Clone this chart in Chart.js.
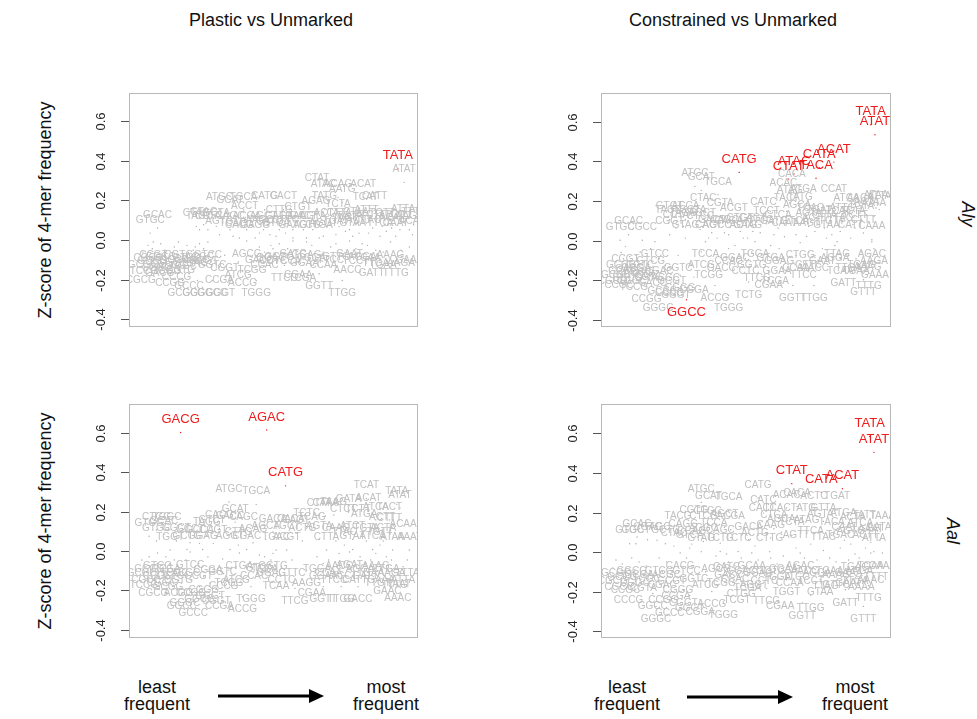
<!DOCTYPE html>
<html>
<head>
<meta charset="utf-8">
<script src="https://cdn.jsdelivr.net/npm/chart.js@4"></script>
<style>
  body { margin: 0; background: #fff; width: 977px; height: 719px; position: relative; overflow: hidden;
         font-family: "Liberation Sans", Arial, sans-serif; color: #111; }
  canvas { position: absolute; }
  .t { position: absolute; font-size: 18px; white-space: nowrap; transform: translate(-50%, -50%); }
  .v { position: absolute; font-size: 18px; white-space: nowrap; transform: translate(-50%, -50%) rotate(-90deg); }
  .r { position: absolute; font-size: 18px; font-style: italic; white-space: nowrap; transform: translate(-50%, -50%) rotate(90deg); }
  .two { position: absolute; font-size: 18px; line-height: 17px; text-align: center; transform: translateX(-50%); }
  svg { position: absolute; left: 0; top: 0; }
</style>
</head>
<body>
<div class="t" style="left:271px;top:20px">Plastic vs Unmarked</div>
<div class="t" style="left:733px;top:20px">Constrained vs Unmarked</div>
<div class="v" style="left:45px;top:210px">Z-score of 4-mer frequency</div>
<div class="v" style="left:45px;top:521px">Z-score of 4-mer frequency</div>
<div class="r" style="left:967px;top:214px">Aly</div>
<div class="r" style="left:952px;top:531px">Aal</div>

<canvas id="p1" width="344" height="254" style="left:84px;top:83px"></canvas>
<canvas id="p2" width="345" height="254" style="left:556px;top:83px"></canvas>
<canvas id="p3" width="344" height="254" style="left:84px;top:394px"></canvas>
<canvas id="p4" width="345" height="254" style="left:556px;top:394px"></canvas>

<div class="two" style="left:157px;top:679px">least<br>frequent</div>
<div class="two" style="left:386px;top:679px">most<br>frequent</div>
<div class="two" style="left:627px;top:679px">least<br>frequent</div>
<div class="two" style="left:855px;top:679px">most<br>frequent</div>
<svg width="977" height="719">
  <line x1="218" y1="696" x2="311" y2="696" stroke="#000" stroke-width="3"/>
  <polygon points="309,689 324,696 309,703" fill="#000"/>
  <line x1="687" y1="697" x2="780" y2="697" stroke="#000" stroke-width="3"/>
  <polygon points="778,690 793,697 778,704" fill="#000"/>
</svg>

<script>
// [4-mer, frequency rank, z-score]
const plasticAly = [
  ["TATA",247,0.360],["ATAT",253,0.291],["CTAT",170,0.244],["ATAC",176,0.217],["ACAG",190,0.214],
  ["ACAT",214,0.215],["AATG",194,0.190],["ATGC",77,0.152],["GCAT",87,0.136],["TGCA",100,0.152],
  ["CATG",120,0.153],["CACT",138,0.153],["ACCT",101,0.106],["TATG",177,0.157],["TCAT",216,0.148],
  ["CATT",225,0.157],["GCAC",18,0.061],["GTGC",11,0.035],["CTTG",134,0.086],["CTGT",152,0.099],
  ["AGAG",169,0.128],["TCTA",190,0.116],["ATTT",217,0.086],["ATTA",252,0.089],["CTAG",55,0.069],
  ["GTAG",62,0.077],["TAGC",58,0.052],["CCTA",66,0.052],["GCTA",74,0.069],["CAGC",87,0.052],
  ["AGTG",77,0.027],["TCAG",90,0.019],["ACGA",103,0.052],["CACG",96,0.010],["GAGG",111,0.010],
  ["AGCT",119,0.052],["GTCA",131,0.019],["CAGA",134,0.052],["TGAC",147,0.052],["GAAG",147,0.010],
  ["GACT",157,0.052],["TGTG",160,0.010],["AGTA",166,0.052],["CTGA",172,0.010],["ACTA",179,0.069],
  ["AGGT",176,0.019],["CTTA",191,0.069],["TGAT",188,0.027],["TGTA",201,0.052],["GTAA",204,0.019],
  ["ACTT",210,0.035],["TCTT",223,0.061],["TTCA",230,0.019],["TACA",236,0.044],["CAAT",245,0.019],
  ["AATT",249,0.052],["AAGT",258,0.052],["ACAA",261,0.027],["TTTA",262,0.077],["CTTC",140,0.035],
  ["GATG",125,0.027],["AAGC",115,0.035],["TAGT",197,0.044],["TTAC",219,0.035],["ATCT",241,0.061],
  ["TGTT",232,0.069],["CTAA",207,0.077],
  ["CGCG",2,-0.136],["GCGC",4,-0.061],["CGCC",9,-0.027],["GCCG",13,-0.044],["CCGC",17,-0.077],
  ["GGCG",21,-0.019],["CGGC",25,-0.052],["CCGG",30,-0.153],["GCGA",34,-0.035],["CGTC",38,-0.010],
  ["TCGC",42,-0.069],["GCGG",42,-0.204],["GCCC",48,-0.170],["GGGC",56,-0.204],["GTCG",46,-0.027],
  ["CGAC",52,-0.052],["ACGC",58,-0.019],["GCGT",62,-0.044],["CCGA",77,-0.136],["GGCC",70,-0.204],
  ["GGGT",78,-0.204],["GTCC",66,-0.010],["GGTC",70,-0.061],["CGGT",82,-0.077],["ATCG",95,-0.111],
  ["ACCG",99,-0.153],["AGCG",103,-0.005],["TCGG",108,-0.086],["TGGG",112,-0.204],["GACC",115,-0.035],
  ["CCAC",120,-0.061],["GGAC",126,-0.027],["TTCG",139,-0.128],["GATC",147,-0.005],["CGAA",152,-0.111],
  ["TCGA",156,-0.128],["GGAG",160,-0.010],["CCTC",128,-0.044],["GGTG",134,-0.019],["TCCA",142,-0.044],
  ["GGAA",158,-0.052],["TGGA",165,-0.027],["GGTT",172,-0.170],["TTGG",194,-0.204],["GAAT",201,-0.005],
  ["CCAA",176,-0.061],["TTCC",183,-0.035],["AACC",199,-0.086],["TCCT",207,-0.044],["AGGA",213,-0.019],
  ["GATT",222,-0.103],["TGAA",233,-0.061],["AAAG",240,-0.010],["TTTG",245,-0.103],["GAAA",258,-0.035],
  ["TTGA",226,-0.052],["AAGA",250,-0.052],["TCAA",218,-0.027],["GTTC",188,-0.019],["CCCG",36,-0.120],
  ["CGGG",26,-0.094],["TCCG",5,-0.094],["GACG",20,-0.103],["CGTG",40,-0.086],["CACC",54,-0.035],
  ["CCGT",14,-0.010],["ACGG",32,-0.069]
];
const constrainedAly = [
  ["TATA",247,0.586],["ATAT",251,0.535],["CATG",122,0.345],["ACAT",212,0.397],["CATA",198,0.370],
  ["ATAC",174,0.337],["CTAT",169,0.311],["TACA",195,0.315],["GGCC",72,-0.298],
  ["ATGC",80,0.274],["GCAT",86,0.254],["TGCA",102,0.232],["CACA",172,0.269],["ACAC",164,0.224],
  ["ATAG",170,0.190],["ATGA",183,0.195],["CCAT",212,0.195],["CTAC",88,0.148],["ATTA",255,0.157],
  ["ATCA",224,0.148],["AACA",237,0.148],["TACT",167,0.148],["CGTA",104,0.123],["ACGT",117,0.098],
  ["CATC",145,0.131],["GTGT",56,0.106],["TAGC",55,0.089],["ACCA",71,0.106],["TAGG",69,0.072],
  ["CTCC",85,0.057],["CGGT",56,0.030],["GTAG",71,0.013],["AGCC",101,0.013],["ACTG",126,0.013],
  ["CAGT",135,0.047],["TCCT",148,0.085],["CAGC",108,0.040],["CTCA",159,0.064],["AGCA",177,0.115],
  ["TCAG",190,0.098],["AGTA",188,0.072],["TGAT",198,0.089],["CTTA",203,0.064],["ATTG",220,0.098],
  ["TCTA",230,0.081],["TGTA",238,0.106],["ACTA",243,0.131],["AATA",250,0.123],["CATT",228,0.013],
  ["CTTT",240,0.039],["CAAA",248,0.005],["TCTT",232,0.064],["TTAC",218,0.047],["TGTT",210,0.030],
  ["GTAA",205,0.013],["TCAT",216,0.081],["ACTT",194,0.047],["AAGT",186,0.021],["TTCA",176,0.030],
  ["CAAT",165,0.020],["GATG",155,0.030],["CTTG",142,0.040],["GAAG",130,0.013],["CTGT",123,0.047],
  ["CAGA",112,0.030],["GACT",96,0.040],["CACT",93,0.013],["GCAC",17,0.030],["GTGC",9,0.002],
  ["CGCC",30,0.002],["CCTA",62,0.064],["GCTA",78,0.089],["AGCT",87,0.072],["TATG",180,0.155],
  ["ATAA",252,0.165],
  ["GTCC",42,-0.005],["CGCG",2,-0.141],["GCGC",5,-0.108],["CCGC",8,-0.158],["GCCG",12,-0.091],
  ["GGCG",16,-0.124],["CGGC",20,-0.141],["GCGA",24,-0.074],["CGTC",28,-0.057],["TCGC",32,-0.108],
  ["CCGG",34,-0.231],["GGGC",45,-0.276],["GCCC",49,-0.190],["GTCG",38,-0.040],["CGAC",46,-0.091],
  ["ACGC",52,-0.124],["GCGT",58,-0.141],["CGGA",79,-0.184],["ACCG",99,-0.226],["GGGT",62,-0.210],
  ["CGGG",66,-0.174],["CCCG",56,-0.200],["GGTC",64,-0.074],["TCCA",90,-0.005],["ATCG",86,-0.057],
  ["TCGG",93,-0.108],["GACC",105,-0.074],["CCAC",112,-0.040],["TGGA",137,-0.005],["GGAC",118,-0.024],
  ["TCTG",131,-0.209],["TGGG",112,-0.276],["TTCG",139,-0.124],["CGAA",150,-0.158],["TCGA",156,-0.141],
  ["GTGA",152,-0.024],["GGAG",160,-0.040],["CCTC",128,-0.091],["GGTG",134,-0.057],["GGAA",158,-0.091],
  ["CTGG",180,-0.010],["GGTT",173,-0.226],["TTGG",193,-0.226],["GAAT",201,-0.040],["CCAA",176,-0.074],
  ["TTCC",183,-0.108],["AACC",194,-0.074],["AGGA",213,-0.024],["GATT",221,-0.148],["TGAA",233,-0.091],
  ["AAAG",244,-0.066],["TTTG",245,-0.166],["GTTT",240,-0.197],["TTAG",215,-0.005],["TGAG",238,-0.057],
  ["GAAA",251,-0.108],["TTGA",226,-0.074],["AAGA",250,-0.040],["TCAA",218,-0.091],["GTTC",188,-0.057],
  ["AGAC",248,-0.005],["GCGG",10,-0.060],["GACG",18,-0.080],["CCGT",14,-0.030],["ACGG",26,-0.100],
  ["CGTG",36,-0.120],["CACC",40,-0.150],["TCCG",22,-0.170]
];
const plasticAal = [
  ["GACG",40,0.602],["AGAC",122,0.615],["CATG",140,0.331],
  ["ATGC",86,0.249],["TGCA",112,0.236],["TCAT",217,0.266],["TATA",246,0.237],["ATAT",249,0.219],
  ["GATA",200,0.198],["ACAT",219,0.202],["CTAT",172,0.178],["CTAA",178,0.178],["TAAG",186,0.183],
  ["ATCA",226,0.158],["TACT",239,0.158],["GCAT",92,0.147],["CTCT",195,0.144],["TCTT",209,0.144],
  ["CTTT",239,0.102],["CTGG",17,0.107],["TGGC",27,0.107],["CACG",77,0.114],["CACC",87,0.110],
  ["TAGG",65,0.080],["CAGC",100,0.107],["GACA",128,0.097],["TCAG",165,0.107],["GTGC",17,0.051],
  ["GGCT",36,0.051],["GCCT",49,0.042],["GCCA",58,0.039],["CCGT",71,0.039],["ACAG",109,0.042],
  ["AGCA",121,0.059],["TGCT",141,0.059],["ACTG",156,0.051],["AGTA",172,0.059],["CAAG",188,0.051],
  ["ATCT",204,0.059],["TGTA",217,0.051],["ACTA",233,0.051],["ACAA",252,0.068],["TGGT",30,0.005],
  ["GCTG",46,0.008],["GGAG",61,0.008],["AGGT",87,0.008],["CGAC",103,0.008],["TGAC",131,0.005],
  ["ACGT",141,0.005],["CTTA",179,0.005],["GTAA",204,0.008],["TTCA",223,0.008],["ATAA",242,0.005],
  ["AAAT",258,0.005],["CAGT",150,0.090],["TCTC",160,0.125],["CACA",145,0.095],["GTCT",70,0.090],
  ["CTTG",95,0.030],["ATGA",215,0.120],["ACTT",232,0.105],["TTAC",196,0.030],["TGTT",230,0.030],
  ["GCAC",24,0.085],["GTGG",10,0.075],
  ["CGCG",14,-0.147],["GCGC",3,-0.046],["CGCC",7,-0.080],["GCCG",10,-0.029],["CCGC",18,-0.063],
  ["GGCG",58,-0.181],["CGGC",22,-0.097],["CCGG",50,-0.147],["GCGA",26,-0.029],["CGTC",30,-0.063],
  ["TCGC",34,-0.046],["GGCC",41,-0.215],["GCCC",52,-0.249],["GGGC",44,-0.197],["GTCC",49,-0.005],
  ["CGTG",38,-0.080],["ACGC",45,-0.046],["GCGT",57,-0.063],["CCGA",77,-0.215],["GGGT",68,-0.164],
  ["CGGT",74,-0.190],["CGGG",62,-0.131],["CCCG",81,-0.114],["ACCG",99,-0.232],["TGGG",107,-0.181],
  ["ATCG",93,-0.080],["TCGG",86,-0.097],["GGTT",176,-0.181],["TTGG",193,-0.181],["GACC",209,-0.181],
  ["TTCG",149,-0.190],["CGAA",165,-0.147],["TCCA",120,-0.029],["CCAC",110,-0.063],["GGAC",126,-0.046],
  ["CCTC",136,-0.080],["GGTG",128,-0.012],["AAGG",160,-0.097],["TCAA",131,-0.114],["AGAT",201,-0.005],
  ["CATT",206,-0.080],["TAAT",248,-0.105],["GAAC",237,-0.139],["AAAC",247,-0.173],["TGGA",170,-0.029],
  ["GGAA",176,-0.063],["CCAA",181,-0.046],["TTCC",186,-0.080],["AACC",191,-0.012],["TCCT",196,-0.063],
  ["AGGA",211,-0.029],["GATT",216,-0.063],["TGAA",221,-0.046],["AAAG",226,-0.012],["GAAA",231,-0.080],
  ["TTGA",236,-0.029],["AAGA",241,-0.046],["GTTC",146,-0.046],["TTTA",256,-0.046],["ATTA",252,-0.080],
  ["GTCG",18,-0.010],["CGGA",66,-0.030],["TCCG",5,-0.110],["GCGG",28,-0.120],["ACGG",38,-0.150],
  ["GGTC",80,-0.040],["CTGA",96,-0.010],["GTCA",115,-0.020],["TTTG",244,-0.110],["TTGT",228,-0.100]
];
const constrainedAal = [
  ["TATA",246,0.585],["ATAT",250,0.504],["CTAT",172,0.346],["CATA",200,0.302],["ACAT",220,0.320],
  ["CATG",140,0.273],["ATGC",86,0.251],["GCAT",93,0.218],["TGCA",112,0.209],["CACA",177,0.231],
  ["ACAC",167,0.223],["ACTC",193,0.214],["TGAT",215,0.214],["CATC",145,0.197],["CACT",144,0.155],
  ["ATGA",221,0.130],["TATG",183,0.155],["GTTA",202,0.155],["GCAC",25,0.076],["GTGC",18,0.042],
  ["TACG",64,0.113],["CGTG",79,0.147],["GACA",131,0.062],["ACGA",114,0.113],["CAAG",152,0.071],
  ["TAAA",258,0.113],["AAAT",247,0.049],["ATTA",250,0.002],["GTAG",86,0.002],["TCTG",104,0.003],
  ["TCTC",121,0.003],["CTTG",151,0.002],["TTAC",202,0.008],["TGAC",218,0.020],["AGTG",228,0.040],
  ["GCTC",52,0.042],["CAGG",69,0.076],["AGGC",88,0.053],["CTCG",88,0.113],["GGCT",24,0.042],
  ["CGTC",35,0.062],["TCCA",98,0.079],["CCAG",77,0.040],["CAGC",104,0.045],["AGCT",108,0.125],
  ["CTGC",92,0.140],["TCAC",158,0.155],["CTCA",155,0.118],["ACTG",137,0.030],["AGTA",199,0.125],
  ["ATAG",186,0.095],["TCTA",172,0.085],["AGCA",162,0.100],["TACA",210,0.085],["ACTA",230,0.110],
  ["TATT",241,0.118],["ATCA",237,0.080],["CAAT",222,0.060],["TTCA",190,0.040],["AGTT",176,0.020],
  ["ACTT",242,0.020],["AATA",255,0.060],["CTAC",60,0.030],["GTCA",75,0.020],["TAGC",44,0.060],
  ["CACG",66,-0.005],["GCAA",134,-0.005],["TCAA",247,-0.005],["CAAA",258,-0.005],["AAAC",247,-0.076],
  ["TTAG",204,-0.106],["TGGT",167,-0.140],["GTAA",199,-0.140],["CGGT",69,-0.194],["CCGG",50,-0.180],
  ["CCCG",17,-0.177],["GGGC",43,-0.275],["GCCC",56,-0.245],["TGGG",107,-0.253],["TTCG",148,-0.185],
  ["CGAA",161,-0.211],["TTGG",190,-0.219],["GGTT",182,-0.258],["GATT",223,-0.191],["TTTG",245,-0.169],
  ["GTTT",240,-0.275],["CGCG",2,-0.080],["GCGC",5,-0.040],["CGCC",8,-0.110],["GCCG",11,-0.060],
  ["CCGC",14,-0.130],["GGCG",20,-0.030],["CGGC",23,-0.090],["GCGA",27,-0.050],["CGTA",31,-0.120],
  ["TCGC",34,-0.070],["GGCC",40,-0.210],["GTCG",46,-0.030],["CGAC",49,-0.100],["ACGC",53,-0.050],
  ["GCGT",58,-0.080],["CCGA",62,-0.160],["GGGT",75,-0.220],["CGGG",64,-0.130],["GTCC",72,-0.030],
  ["GGTC",79,-0.070],["ATCG",90,-0.100],["ACCG",96,-0.200],["AGCG",100,-0.020],["TCGG",105,-0.090],
  ["GACC",112,-0.050],["CCAC",118,-0.070],["GGAC",124,-0.030],["TCGA",130,-0.120],["GATC",110,-0.010],
  ["CGGA",85,-0.240],["GGAG",140,-0.040],["CCTC",146,-0.080],["GGTG",152,-0.030],["TGGA",158,-0.060],
  ["GGAA",164,-0.020],["CCAA",170,-0.090],["TTCC",176,-0.060],["AACC",184,-0.030],["TCCT",190,-0.080],
  ["AGGA",196,-0.040],["TGAA",208,-0.030],["AAAG",214,-0.050],["GAAA",226,-0.040],["TTGA",232,-0.080],
  ["AAGA",236,-0.030],["GAAT",226,-0.090],["GTTC",214,-0.100],["AAAA",238,-0.110],["TTTT",252,-0.060],
  ["CTGG",124,-0.150],["AGGT",136,-0.100],["TCGT",120,-0.180],["AGAC",180,-0.005],["TGAG",232,-0.010]
];

// highlighted 4-mers (red)
const redPlasticAly = ["TATA"];
const redConstrainedAly = ["TATA","ATAT","CATG","ACAT","CATA","ATAC","CTAT","TACA","GGCC"];
const redPlasticAal = ["GACG","AGAC","CATG"];
const redConstrainedAal = ["TATA","ATAT","CTAT","CATA","ACAT"];

const yTicks = [-0.4, -0.2, 0, 0.2, 0.4, 0.6];
const yTickLabels = ["-0.4", "-0.2", "0.0", "0.2", "0.4", "0.6"];

const GREY = '#c0c0c0';
const RED = '#ee1c1c';
const FONT = '"Liberation Sans", Arial, sans-serif';

const kmerLabels = {
  id: 'kmerLabels',
  afterDatasetsDraw(chart) {
    const { ctx, chartArea: a } = chart;
    const pts = chart.getDatasetMeta(0).data;
    const items = chart.data.datasets[0].data;
    ctx.save();
    ctx.beginPath();
    ctx.rect(a.left, a.top, a.right - a.left, a.bottom - a.top);
    ctx.clip();
    ctx.textAlign = 'center';
    ctx.textBaseline = 'middle';
    [false, true].forEach(pass => {
      ctx.font = (pass ? '13px ' : '10px ') + FONT;
      ctx.fillStyle = pass ? RED : GREY;
      pts.forEach((p, i) => {
        const d = items[i];
        if (d.hi !== pass) return;
        const off = d.y >= 0 ? -13 : 13;
        ctx.fillText(d.k, p.x, p.y + off);
      });
    });
    ctx.restore();
  }
};

const frame = {
  id: 'frame',
  afterDraw(chart) {
    const { ctx, chartArea: a, scales: { y } } = chart;
    ctx.save();
    ctx.strokeStyle = '#b8b8b8';
    ctx.lineWidth = 1;
    ctx.strokeRect(Math.round(a.left) + 0.5, Math.round(a.top) + 0.5,
      Math.round(a.right - a.left) - 1, Math.round(a.bottom - a.top) - 1);
    ctx.strokeStyle = '#555';
    ctx.fillStyle = '#222';
    ctx.font = '13px ' + FONT;
    ctx.textAlign = 'center';
    ctx.textBaseline = 'middle';
    yTicks.forEach((v, i) => {
      const py = Math.round(y.getPixelForValue(v)) + 0.5;
      ctx.beginPath();
      ctx.moveTo(a.left, py);
      ctx.lineTo(a.left - 8, py);
      ctx.stroke();
      ctx.save();
      ctx.translate(a.left - 28, py);
      ctx.rotate(-Math.PI / 2);
      ctx.fillText(yTickLabels[i], 0, 0);
      ctx.restore();
    });
    ctx.restore();
  }
};

function drawPanel(id, items, red, yMin, yMax) {
  const data = items.map(d => ({ x: d[1], y: d[2], k: d[0], hi: red.includes(d[0]) }));
  new Chart(document.getElementById(id), {
    type: 'scatter',
    data: {
      datasets: [{
        data: data,
        pointRadius: 0.7,
        pointBorderWidth: 0,
        pointBackgroundColor: data.map(d => d.hi ? RED : '#ababab')
      }]
    },
    options: {
      responsive: false,
      animation: false,
      devicePixelRatio: 1,
      events: [],
      layout: { padding: { left: 45, right: 10, top: 10, bottom: 10 } },
      plugins: { legend: { display: false }, tooltip: { enabled: false } },
      scales: {
        x: { display: false, min: -9.2, max: 266.2 },
        y: { display: false, min: yMin, max: yMax }
      }
    },
    plugins: [kmerLabels, frame]
  });
}

drawPanel('p1', plasticAly, redPlasticAly, -0.439, 0.742);
drawPanel('p2', constrainedAly, redConstrainedAly, -0.436, 0.746);
drawPanel('p3', plasticAal, redPlasticAal, -0.442, 0.747);
drawPanel('p4', constrainedAal, redConstrainedAal, -0.435, 0.749);
</script>
</body>
</html>
